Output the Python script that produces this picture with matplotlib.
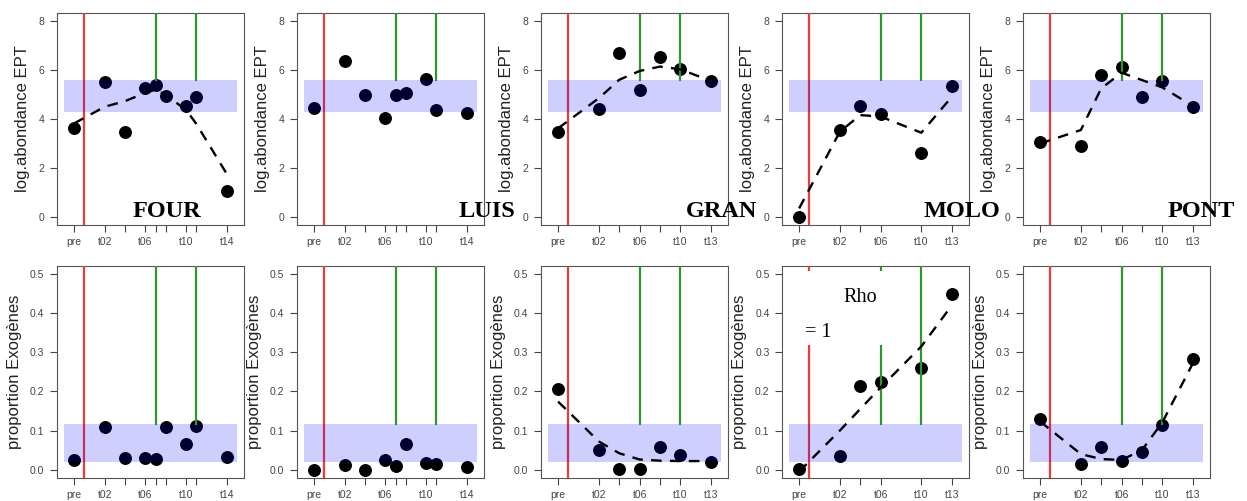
import matplotlib
matplotlib.use("Agg")
import matplotlib.pyplot as plt
from matplotlib.patches import Rectangle

plt.rcParams['font.family'] = ['Liberation Sans', 'DejaVu Sans']

W, H = 1247, 501

# sites
sites = ['FOUR', 'LUIS', 'GRAN', 'MOLO', 'PONT']

# sampling times (numeric position) and tick labels
x_long = [-1, 2, 4, 6, 7, 8, 10, 11, 14]
lab_long = ['pre', 't02', '', 't06', '', '', 't10', '', 't14']
x_gran = [-2, 2, 4, 6, 8, 10, 13]
lab_gran = ['pre', 't02', '', 't06', '', 't10', 't13']
x_molo = [-2, 2, 4, 6, 10, 13]
lab_molo = ['pre', 't02', '', 't06', 't10', 't13']

xs = {'FOUR': x_long, 'LUIS': x_long, 'GRAN': x_gran, 'MOLO': x_molo, 'PONT': x_gran}
labs = {'FOUR': lab_long, 'LUIS': lab_long, 'GRAN': lab_gran, 'MOLO': lab_molo, 'PONT': lab_gran}

# event (red) and green marks
red_x = {'FOUR': 0, 'LUIS': 0, 'GRAN': -1, 'MOLO': -1, 'PONT': -1}
green_x = {'FOUR': [7, 11], 'LUIS': [7, 11], 'GRAN': [6, 10], 'MOLO': [6, 10], 'PONT': [6, 10]}

# log abondance EPT
ept = {
    'FOUR': [3.62, 5.52, 3.46, 5.25, 5.39, 4.95, 4.53, 4.90, 1.07],
    'LUIS': [4.45, 6.35, 5.00, 4.05, 4.98, 5.08, 5.62, 4.38, 4.25],
    'GRAN': [3.46, 4.42, 6.69, 5.18, 6.54, 6.04, 5.55],
    'MOLO': [0.00, 3.55, 4.53, 4.20, 2.60, 5.35],
    'PONT': [3.05, 2.91, 5.80, 6.11, 4.91, 5.55, 4.50],
}
ept_fit = {
    'FOUR': [3.82, 4.50, 4.73, 5.07, 5.20, 4.98, 4.37, 3.80, 1.75],
    'GRAN': [3.62, 4.85, 5.60, 5.96, 6.14, 6.03, 5.55],
    'MOLO': [0.35, 3.48, 4.16, 4.10, 3.44, 4.91],
    'PONT': [3.00, 3.55, 5.25, 5.89, 5.59, 5.29, 4.53],
}

# proportion exogenes
exo = {
    'FOUR': [0.025, 0.108, 0.030, 0.030, 0.027, 0.108, 0.066, 0.112, 0.033],
    'LUIS': [0.000, 0.012, 0.000, 0.025, 0.010, 0.066, 0.016, 0.014, 0.008],
    'GRAN': [0.206, 0.050, 0.003, 0.003, 0.057, 0.038, 0.020],
    'MOLO': [0.003, 0.036, 0.214, 0.223, 0.259, 0.448],
    'PONT': [0.129, 0.014, 0.057, 0.022, 0.045, 0.114, 0.282],
}
exo_fit = {
    'GRAN': [0.174, 0.072, 0.042, 0.026, 0.023, 0.022, 0.022],
    'MOLO': [-0.005, 0.100, 0.155, 0.210, 0.315, 0.420],
    'PONT': [0.123, 0.040, 0.027, 0.025, 0.050, 0.121, 0.272],
}

# reference bands
band_ept = (4.30, 5.60)
band_exo = (0.020, 0.118)

lefts = [57, 297, 541, 782, 1023]
name_x = [133, 459, 686, 924, 1168]
axw = 187

fig = plt.figure(figsize=(W / 100, H / 100), dpi=100)

red = '#ec3b3b'
green = '#2f962f'
grey = '#444444'


def panel(ax, site, y, fit, band, ylim, yticks, ylabel):
    x = xs[site]
    x0, x1 = x[0] - 1, x[-1] + 1
    ax.set_xlim(x0 - 0.04 * (x1 - x0), x1 + 0.04 * (x1 - x0))
    ax.set_ylim(ylim)
    ax.plot(x, y, 'o', color='black', ms=8.3, zorder=2)
    ax.axvline(red_x[site], color=red, lw=1.6, zorder=3)
    ax.add_patch(Rectangle((x0, band[0]), x1 - x0, band[1] - band[0],
                           facecolor='blue', alpha=0.19, lw=0, zorder=4))
    for g in green_x[site]:
        ax.plot([g, g], [band[1], ylim[1]], color=green, lw=1.6, zorder=5)
    if fit is not None:
        ax.plot(x, fit, color='black', lw=1.7, ls=(0, (4.5, 3.5)), zorder=6)
    ax.set_xticks(x)
    ax.set_xticklabels(labs[site], fontsize=7.5, color=grey)
    ax.set_yticks(yticks)
    ax.tick_params(axis='y', labelsize=7.5, labelcolor=grey)
    ax.tick_params(direction='out', length=5, width=0.8, color=grey, pad=4)
    for s in ax.spines.values():
        s.set_color('#555555')
        s.set_linewidth(0.8)
    ax.set_ylabel(ylabel, fontsize=12, color='#222222', labelpad=6)


for i, site in enumerate(sites):
    l = lefts[i] / W
    top = fig.add_axes([l, 1 - 224.8 / H, axw / W, 211.6 / H])
    panel(top, site, ept[site], ept_fit.get(site), band_ept, (-0.32, 8.32),
          [0, 2, 4, 6, 8], 'log.abondance EPT')
    bot = fig.add_axes([l, 1 - 477.5 / H, axw / W, 211.3 / H])
    panel(bot, site, exo[site], exo_fit.get(site), band_exo, (-0.02, 0.52),
          [0.0, 0.1, 0.2, 0.3, 0.4, 0.5], 'proportion Exog\u00e8nes')
    bot.set_yticklabels(['0.0', '0.1', '0.2', '0.3', '0.4', '0.5'])
    if site == 'MOLO':
        bot.add_patch(Rectangle((-1.6, 0.318), 8.0, 0.19, facecolor='white',
                                lw=0, zorder=7))

for i, site in enumerate(sites):
    fig.text(name_x[i] / W, 1 - 217 / H, site, fontsize=17.5, fontweight='bold',
             family='Liberation Serif', ha='left', va='baseline', zorder=10)

fig.text(843 / W, 1 - 302 / H, 'Rho', fontsize=14.5, family='Liberation Serif',
         ha='left', va='baseline', zorder=10)
fig.text(805 / W, 1 - 337 / H, '= 1', fontsize=14.5, family='Liberation Serif',
         ha='left', va='baseline', zorder=10)

fig.savefig('out.png', dpi=100)
